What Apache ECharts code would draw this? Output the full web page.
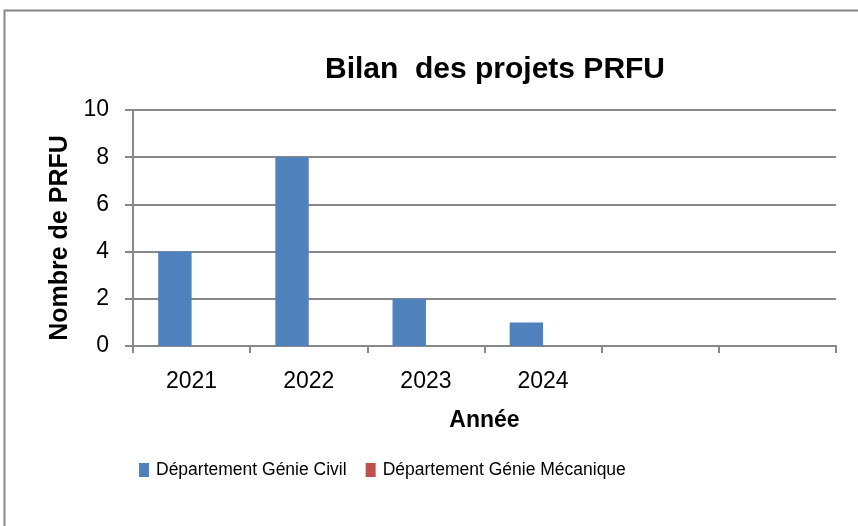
<!DOCTYPE html>
<html>
<head>
<meta charset="utf-8">
<script src="https://cdn.jsdelivr.net/npm/echarts@6/dist/echarts.min.js"></script>
<style>
html,body{margin:0;padding:0;background:#fff;}
#chart{width:858px;height:526px;}
</style>
</head>
<body>
<div id="chart"></div>
<script>
var categories = ['2021', '2022', '2023', '2024', '', ''];
var genieCivil = [4, 8, 2, 1, null, null];
var genieMecanique = [0, 0, 0, 0, null, null];
var yTicks = [0, 2, 4, 6, 8, 10];

var FONT = "'Liberation Sans', Arial, sans-serif";
var GRAY = '#888888';

var chart = echarts.init(document.getElementById('chart'), null, {renderer: 'canvas'});
chart.setOption({
  animation: false,
  backgroundColor: '#ffffff',
  graphic: [{
    type: 'rect',
    shape: {x: 4.5, y: 10.5, width: 900, height: 600},
    style: {fill: 'none', stroke: GRAY, lineWidth: 2},
    silent: true
  }],
  title: {
    text: 'Bilan  des projets PRFU',
    left: 490,
    top: 50,
    textAlign: 'center',
    textStyle: {fontFamily: FONT, fontWeight: 'bold', fontSize: 30, color: '#000'}
  },
  legend: {
    left: 134,
    top: 456,
    icon: 'rect',
    itemWidth: 10,
    itemHeight: 14,
    itemGap: 19,
    textStyle: {fontFamily: FONT, fontSize: 17.5, color: '#000', padding: [0, 0, 0, 2]},
    data: ['Département Génie Civil', 'Département Génie Mécanique']
  },
  grid: {left: 133, right: 22, top: 110, bottom: 180, containLabel: false},
  xAxis: {
    type: 'category',
    data: categories,
    name: 'Année',
    nameLocation: 'middle',
    nameGap: 63,
    nameTextStyle: {fontFamily: FONT, fontWeight: 'bold', fontSize: 23, color: '#000'},
    axisLine: {show: true, lineStyle: {color: GRAY, width: 2}},
    axisTick: {show: true, length: 7, lineStyle: {color: GRAY, width: 2}},
    axisLabel: {fontFamily: FONT, fontSize: 23, color: '#000', margin: 24, interval: 0},
    splitLine: {show: false}
  },
  yAxis: {
    type: 'value',
    min: 0,
    max: 10,
    interval: 2,
    name: 'Nombre de PRFU',
    nameLocation: 'middle',
    nameGap: 51,
    nameTextStyle: {fontFamily: FONT, fontWeight: 'bold', fontSize: 25, color: '#000', padding: [0, 20, 0, 0]},
    axisLine: {show: true, lineStyle: {color: GRAY, width: 2}},
    axisTick: {show: true, length: 8, lineStyle: {color: GRAY, width: 2}},
    axisLabel: {
      fontFamily: FONT, fontSize: 23, color: '#000', margin: 24,
      formatter: function (v) { return yTicks.indexOf(v) >= 0 ? String(v) : ''; }
    },
    splitLine: {show: true, lineStyle: {color: GRAY, width: 2}}
  },
  series: [{
    name: 'Département Génie Civil',
    type: 'bar',
    data: genieCivil,
    barGap: '0%',
    barCategoryGap: '43%',
    itemStyle: {color: '#4f81bd'}
  }, {
    name: 'Département Génie Mécanique',
    type: 'bar',
    data: genieMecanique,
    barGap: '0%',
    barCategoryGap: '43%',
    itemStyle: {color: '#c0504d'}
  }]
});
</script>
</body>
</html>
